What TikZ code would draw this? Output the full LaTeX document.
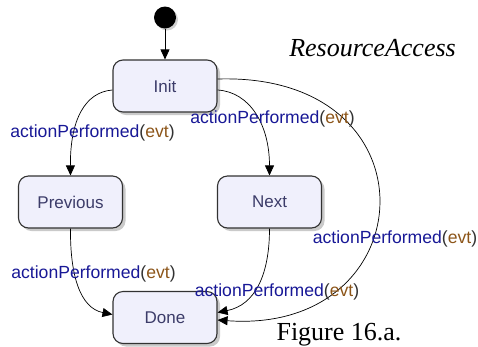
\documentclass[tikz,border=0pt]{standalone}
\usepackage{fontspec}
\setmainfont{Liberation Serif}
\setsansfont{Liberation Sans}
\usetikzlibrary{arrows.meta,shadows}
\definecolor{labblue}{RGB}{24,24,150}
\definecolor{evtbrown}{RGB}{140,85,25}
\definecolor{parengray}{RGB}{50,50,50}
\definecolor{statetext}{RGB}{60,60,105}
\definecolor{statefill}{RGB}{240,240,252}
\definecolor{stateborder}{RGB}{50,50,50}
\newcommand{\apevt}{\textcolor{labblue}{actionPerformed}\textcolor{parengray}{(}\textcolor{evtbrown}{evt}\textcolor{parengray}{)}}
\begin{document}
\begin{tikzpicture}[x=1pt,y=-1pt,
  statebox/.style={rectangle, rounded corners=10pt, minimum width=104pt, minimum height=52pt,
    inner sep=0pt, fill=statefill, draw=stateborder, line width=1.1pt,
    text=statetext, font=\sffamily\fontsize{17}{20}\selectfont,
    drop shadow={shadow xshift=3pt, shadow yshift=-3pt, opacity=0.35, fill=black!60}},
  initdot/.style={circle, fill=black, minimum size=22pt, inner sep=0pt,
    drop shadow={shadow xshift=2pt, shadow yshift=-2pt, opacity=0.3, fill=black!60}},
  trans/.style={line width=0.7pt, -{Triangle[length=10pt,width=9pt]}},
  evlabel/.style={anchor=base, inner sep=0pt, font=\sffamily\fontsize{17.6}{20}\selectfont},
  titletext/.style={anchor=base, inner sep=0pt, font=\rmfamily\fontsize{26}{30}\selectfont}
]
\useasboundingbox (0,0) rectangle (478,346);

\node[initdot] (start) at (165,17.5) {};
\node[statebox] (init) at (165,86) {Init};
\node[statebox] (prev) at (70.5,202) {Previous};
\node[statebox] (next) at (269.5,202) {Next};
\node[statebox] (done) at (165,317.5) {Done};

\draw[trans] (start) -- (init);
\draw[trans] ([yshift=-4pt]init.west) .. controls (85,92) and (70,120) .. (prev.north);
\draw[trans] ([yshift=-4pt]init.east) .. controls (250,92) and (269.5,125) .. (next.north);
\draw[trans] ([yshift=7pt]init.east) .. controls (440,72) and (425,335) .. ([yshift=-2.5pt]done.east);
\draw[trans] (prev.south) .. controls (70,275) and (80,308) .. ([yshift=3pt]done.west);
\draw[trans] (next.south) .. controls (269.5,275) and (255,305) .. ([yshift=5pt]done.east);

\node[evlabel] (l1) at (92.5,137) {\apevt};
\node[evlabel] (l2) at (272.5,123) {\apevt};
\node[evlabel] (l3) at (395,243) {\apevt};
\node[evlabel] (l4) at (93.5,278) {\apevt};
\node[evlabel] (l5) at (277,296) {\apevt};

\node[titletext, font=\rmfamily\itshape\fontsize{26}{30}\selectfont] (title) at (372.5,56) {ResourceAccess};
\node[titletext] (fig) at (339,340) {Figure 16.a.};
\end{tikzpicture}
\end{document}
